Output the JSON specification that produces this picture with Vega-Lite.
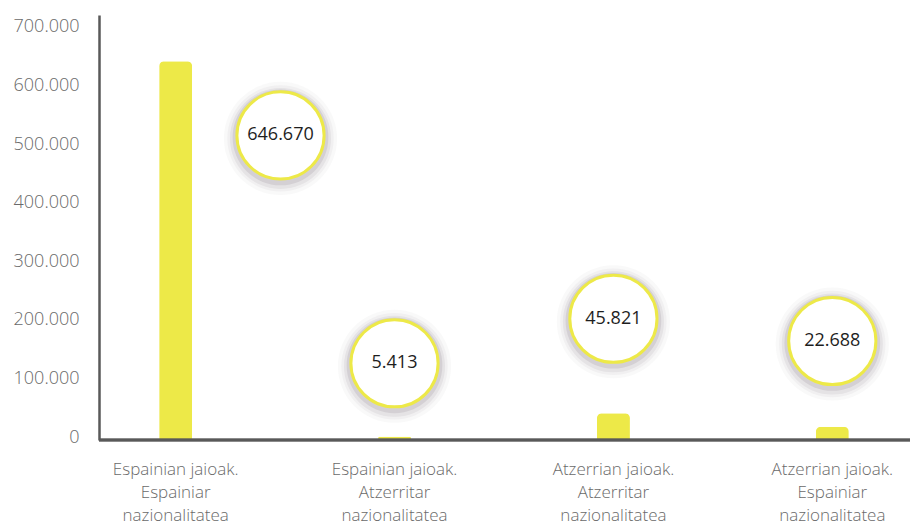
{
  "$schema": "https://vega.github.io/schema/vega-lite/v6.json",
  "autosize": "none",
  "width": 811,
  "height": 425,
  "padding": {"left": 99, "top": 15, "right": 0, "bottom": 84},
  "background": "white",
  "config": {
    "view": {"stroke": null},
    "font": "Open Sans",
    "locale": {"number": {"decimal": ",", "thousands": ".", "grouping": [3], "currency": ["", " €"]}}
  },
  "data": {
    "values": [
      {"cat": "Espainian jaioak. Espainiar nazionalitatea", "value": 646670, "label": "646.670", "labelY": 520000, "shift": 1},
      {"cat": "Espainian jaioak. Atzerritar nazionalitatea", "value": 5413, "label": "5.413", "labelY": 131000, "shift": 0},
      {"cat": "Atzerrian jaioak. Atzerritar nazionalitatea", "value": 45821, "label": "45.821", "labelY": 207000, "shift": 0},
      {"cat": "Atzerrian jaioak. Espainiar nazionalitatea", "value": 22688, "label": "22.688", "labelY": 169000, "shift": 0}
    ]
  },
  "layer": [
    {
      "mark": {"type": "bar", "width": 33, "color": "#EDE948", "cornerRadiusTopLeft": 5, "cornerRadiusTopRight": 5},
      "encoding": {
        "x": {"field": "cat", "type": "nominal", "sort": null,
          "scale": {"type": "band", "range": [-32.8, 842.8], "paddingInner": 0, "paddingOuter": 0},
          "axis": {"title": null, "domain": false, "ticks": false, "labelAngle": 0, "labelFontSize": 17, "labelFont": "Open Sans", "labelFontWeight": 300, "labelColor": "#6a6a6a", "labelPadding": 21, "labelLineHeight": 23, "labelLimit": 300,
            "labelExpr": "[split(datum.label, '. ')[0] + '.', split(split(datum.label, '. ')[1], ' ')[0], split(split(datum.label, '. ')[1], ' ')[1]]"}},
        "y": {"field": "value", "type": "quantitative",
          "scale": {"domain": [0, 725600], "nice": false},
          "axis": {"title": null, "values": [0, 100000, 200000, 300000, 400000, 500000, 600000, 700000], "format": ",d", "grid": false, "ticks": false, "domainColor": "#595959", "domainWidth": 2.5, "labelFontSize": 18, "labelFont": "Open Sans", "labelFontWeight": 300, "labelColor": "#6a6a6a", "labelPadding": 20, "labelOffset": -3}}
      }
    },
    {
      "mark": {"type": "rule", "color": "#595959", "strokeWidth": 2.5},
      "encoding": {"y": {"datum": 0}}
    },
    {
      "mark": {"type": "point", "filled": true, "shape": "circle", "size": 12800, "color": "#5c4a5a", "opacity": 0.035, "xOffset": 3, "yOffset": 3},
      "encoding": {
        "x": {"field": "cat", "type": "nominal", "sort": null},
        "xOffset": {"field": "shift", "type": "quantitative", "scale": {"domain": [0, 1], "range": [109.4, 214.3]}},
        "y": {"field": "labelY", "type": "quantitative"}
      }
    },
    {
      "mark": {"type": "point", "filled": true, "shape": "circle", "size": 11310, "color": "#5c4a5a", "opacity": 0.05, "xOffset": 3, "yOffset": 3},
      "encoding": {
        "x": {"field": "cat", "type": "nominal", "sort": null},
        "xOffset": {"field": "shift", "type": "quantitative"},
        "y": {"field": "labelY", "type": "quantitative"}
      }
    },
    {
      "mark": {"type": "point", "filled": true, "shape": "circle", "size": 10207, "color": "#5c4a5a", "opacity": 0.08, "xOffset": 3, "yOffset": 3},
      "encoding": {
        "x": {"field": "cat", "type": "nominal", "sort": null},
        "xOffset": {"field": "shift", "type": "quantitative"},
        "y": {"field": "labelY", "type": "quantitative"}
      }
    },
    {
      "mark": {"type": "point", "filled": true, "shape": "circle", "size": 9161, "color": "#5c4a5a", "opacity": 0.12, "xOffset": 2, "yOffset": 2},
      "encoding": {
        "x": {"field": "cat", "type": "nominal", "sort": null},
        "xOffset": {"field": "shift", "type": "quantitative"},
        "y": {"field": "labelY", "type": "quantitative"}
      }
    },
    {
      "mark": {"type": "point", "filled": true, "shape": "circle", "size": 7600, "fill": "white", "fillOpacity": 1, "stroke": "#EDE948", "strokeWidth": 3, "opacity": 1},
      "encoding": {
        "x": {"field": "cat", "type": "nominal", "sort": null},
        "xOffset": {"field": "shift", "type": "quantitative"},
        "y": {"field": "labelY", "type": "quantitative"}
      }
    },
    {
      "mark": {"type": "text", "fontSize": 18, "font": "Open Sans", "color": "#1e1e1e", "baseline": "middle", "align": "center"},
      "encoding": {
        "x": {"field": "cat", "type": "nominal", "sort": null},
        "xOffset": {"field": "shift", "type": "quantitative"},
        "y": {"field": "labelY", "type": "quantitative"},
        "text": {"field": "label", "type": "nominal"}
      }
    }
  ]
}
